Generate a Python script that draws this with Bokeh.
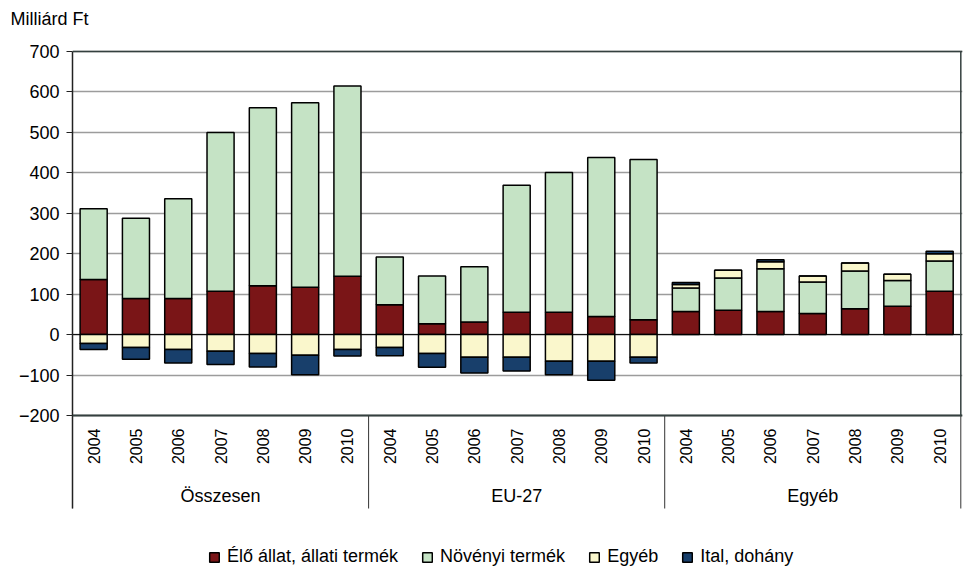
import numpy as np
from bokeh.plotting import figure
from bokeh.models import (ColumnDataSource, Range1d, FixedTicker,
                          Legend, LegendItem, Span)
from bokeh.core.properties import value
from bokeh.embed import file_html
from bokeh.resources import INLINE

# ---------------- data ----------------
groups = ["Összesen", "EU-27", "Egyéb"]
years = ["2004", "2005", "2006", "2007", "2008", "2009", "2010"]
series_names = ["Élő állat, állati termék", "Növényi termék", "Egyéb", "Ital, dohány"]
series_colors = ["#7a1517", "#c5e3c5", "#faf7cc", "#183f6b"]

# values per (group, year), Milliárd Ft
elo_allat = [136, 89, 89, 107, 121, 117, 144,
             74, 27, 31, 55, 55, 45, 37,
             57, 60, 57, 52, 64, 70, 107]
novenyi = [175, 199, 247, 393, 440, 456, 471,
           118, 118, 137, 314, 346, 393, 396,
           58, 80, 106, 78, 93, 64, 75]
egyeb = [-22, -32, -37, -41, -47, -51, -37,
         -32, -47, -56, -56, -66, -66, -56,
         9, 19, 17, 15, 20, 15, 18]
ital = [-15, -29, -33, -33, -33, -48, -16,
        -20, -34, -39, -34, -33, -47, -14,
        5, 0, 5, 0, 0, 0, 6]

y_ticks = [-200, -100, 0, 100, 200, 300, 400, 500, 600, 700]

# ---------------- layout (pixels) ----------------
W, H = 964, 568
FRAME_TOP = 30        # frame top (title sits above)
AXIS_TOP = 51         # pixel row of the top value
AXIS_BOTTOM = 415     # pixel row of the bottom value
SEP_LEN = 93          # category separators below the axis
FONT = "Liberation Sans"
FS = "18px"           # horizontal texts
FS_YEAR = "16px"      # vertical year labels

y_min, y_max = y_ticks[0], y_ticks[-1]
ppu = (AXIS_BOTTOM - AXIS_TOP) / (y_max - y_min)
y_start = y_min - (H - AXIS_BOTTOM) / ppu
y_end = y_max + (AXIS_TOP - FRAME_TOP) / ppu
sep_bottom = y_min - SEP_LEN / ppu

n_years = len(years)
n = len(groups) * n_years
xs = [i + 0.5 for i in range(n)]
year_labels = years * len(groups)
group_edges = [g * n_years for g in range(len(groups) + 1)]
group_centers = [g * n_years + n_years / 2 for g in range(len(groups))]

p = figure(width=W, height=H,
           x_range=Range1d(0, n + 0.04), y_range=Range1d(y_start, y_end),
           output_backend="svg", toolbar_location=None, x_axis_location=None,
           min_border_left=72, min_border_right=2, min_border_top=FRAME_TOP,
           min_border_bottom=0)

p.background_fill_color = "white"
p.border_fill_color = "white"
p.outline_line_color = None

p.xgrid.visible = False
p.ygrid.ticker = FixedTicker(ticks=y_ticks, minor_ticks=[])
p.ygrid.grid_line_color = "#9c9c9c"
p.ygrid.grid_line_width = 1.5

yax = p.yaxis[0]
yax.ticker = FixedTicker(ticks=y_ticks, minor_ticks=[])
yax.bounds = (sep_bottom, y_max)
yax.axis_line_color = "#222222"
yax.axis_line_width = 1.5
yax.major_tick_out = 6
yax.major_tick_in = 0
yax.major_tick_line_color = "#222222"
yax.minor_tick_line_color = None
yax.major_label_text_font = FONT
yax.major_label_text_font_size = FS
yax.major_label_text_color = "black"
yax.major_label_standoff = 7

# plot-area border (top / right), category axis line and zero line
p.add_layout(Span(location=y_max, dimension="width", line_color="#34403f", line_width=1.5))
p.add_layout(Span(location=y_min, dimension="width", line_color="#34403f", line_width=2))
p.add_layout(Span(location=0, dimension="width", line_color="black",
                  line_width=1, level="underlay"))
p.segment(x0=[n], y0=[y_min], x1=[n], y1=[y_max], line_color="#34403f", line_width=1.5)

# category separators below the axis
p.ray(x=group_edges, y=[y_min] * len(group_edges), length=SEP_LEN, length_units="screen",
      angle=-np.pi / 2, line_color="#333333", line_width=1)

# year labels (vertical) and group labels
p.text(x=xs, y=[y_min] * n, text=year_labels, angle=np.pi / 2, y_offset=13,
       text_align="right", text_baseline="middle", text_font=value(FONT),
       text_font_size=FS_YEAR, text_color="black")
p.text(x=group_centers, y=[y_min] * len(groups), text=groups, y_offset=80,
       text_align="center", text_baseline="middle", text_font=value(FONT),
       text_font_size=FS, text_color="black")

# ---------------- stacked bars (positive up, negative down) ----------------
pos = np.zeros(n)
neg = np.zeros(n)
items = []
for name, vals, color in zip(series_names, [elo_allat, novenyi, egyeb, ital], series_colors):
    v = np.array(vals, dtype=float)
    bottom = np.where(v >= 0, pos, neg)
    top = bottom + v
    pos = np.where(v >= 0, top, pos)
    neg = np.where(v < 0, top, neg)
    src = ColumnDataSource(dict(x=xs, bottom=bottom, top=top))
    r = p.vbar(x="x", bottom="bottom", top="top", width=0.64, source=src,
               fill_color=color, line_color="black", line_width=1.5)
    items.append(LegendItem(label=name, renderers=[r]))

legend = Legend(items=items, orientation="horizontal", location=(136, 1),
                padding=0, margin=0, spacing=23, label_standoff=7,
                glyph_width=12, glyph_height=12,
                label_text_font=FONT, label_text_font_size=FS,
                label_text_color="black",
                border_line_color=None, background_fill_alpha=0)
p.add_layout(legend, "center")

p.title.text = "Milliárd Ft"
p.title.align = "left"
p.title.offset = -62
p.title.standoff = 4
p.title.text_font = FONT
p.title.text_font_size = FS
p.title.text_font_style = "normal"
p.title.text_color = "black"

open("out.html", "w").write(file_html(p, INLINE))
